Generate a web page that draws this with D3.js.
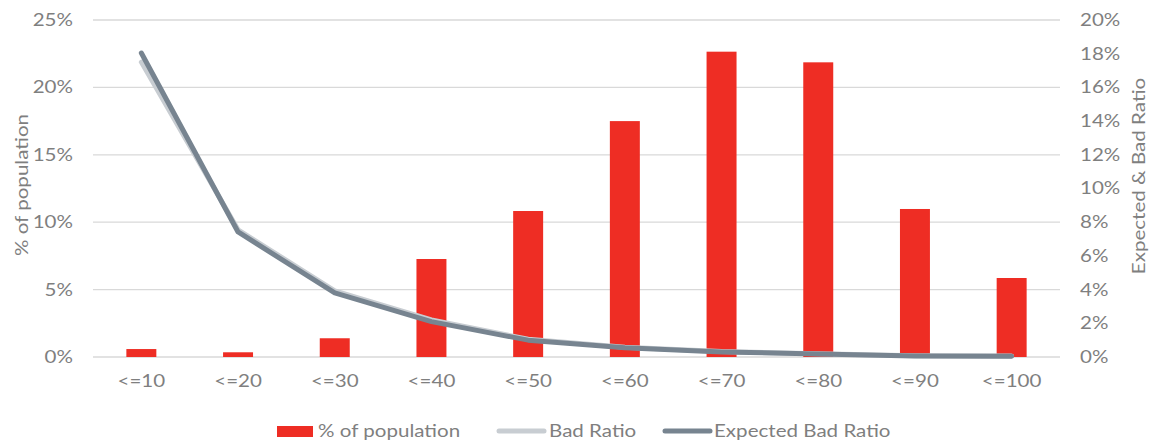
<!DOCTYPE html>
<html><head><meta charset="utf-8">
<script src="https://cdn.jsdelivr.net/npm/d3@7"></script>
<style>body{margin:0;background:#fff}svg{display:block}text{font-family:Lato,"Open Sans",sans-serif;fill:#7f7f7f}</style>
</head><body><svg id="c" width="1153" height="442"></svg>
<script>
const categories = ["<=10","<=20","<=30","<=40","<=50","<=60","<=70","<=80","<=90","<=100"];
const population = [0.59,0.35,1.39,7.27,10.83,17.5,22.65,21.86,10.98,5.86];
const badRatio = [17.5,7.55,3.92,2.2,1.05,0.58,0.32,0.2,0.08,0.06];
const expectedBadRatio = [18.04,7.42,3.8,2.1,1.0,0.55,0.3,0.18,0.06,0.05];
const leftTicks = [0,5,10,15,20,25];
const rightTicks = [0,2,4,6,8,10,12,14,16,18,20];

const FS = "17px", SX = 1.21;
const svg = d3.select("#c");
const L=93, R=1060, T=20, B=357;
const x = d3.scaleBand().domain(categories).range([L,R]).paddingInner(0.69).paddingOuter(0.345);
const xc = d => x(d)+x.bandwidth()/2;
const yL = d3.scaleLinear().domain([0,25]).range([B,T]);
const yR = d3.scaleLinear().domain([0,20]).range([B,T]);

function styleTicks(g){
  g.select(".domain").remove();
  g.selectAll("text").style("font-size",FS).style("fill","#7f7f7f").style("font-family","Lato,sans-serif")
   .attr("transform",`scale(${SX},1)`);
}

// gridlines
svg.append("g").selectAll("line").data(leftTicks).join("line")
  .attr("x1",L).attr("x2",R).attr("y1",d=>yL(d)).attr("y2",d=>yL(d))
  .attr("stroke","#d9d9d9").attr("stroke-width",1.3);

// left axis
svg.append("g").attr("transform",`translate(${L-20},0)`)
  .call(d3.axisLeft(yL).tickValues(leftTicks).tickFormat(d=>d+"%").tickSize(0).tickPadding(0))
  .call(styleTicks);

// right axis
svg.append("g").attr("transform",`translate(${R+20},0)`)
  .call(d3.axisRight(yR).tickValues(rightTicks).tickFormat(d=>d+"%").tickSize(0).tickPadding(0))
  .call(styleTicks);

// x axis
svg.append("g").attr("transform",`translate(0,${B+15})`)
  .call(d3.axisBottom(x).tickSize(0).tickPadding(3))
  .call(styleTicks);

// bars
svg.append("g").selectAll("rect").data(population).join("rect")
  .attr("x",(d,i)=>x(categories[i])).attr("width",x.bandwidth())
  .attr("y",d=>yL(d)).attr("height",d=>B-yL(d)).attr("fill","#ee2d24");

// lines
const line = d3.line().x((d,i)=>xc(categories[i])).y(d=>yR(d));
svg.append("path").attr("d",line(badRatio)).attr("fill","none")
  .attr("stroke","#c8cdd2").attr("stroke-width",5).attr("stroke-linecap","round").attr("stroke-linejoin","round");
svg.append("path").attr("d",line(expectedBadRatio)).attr("fill","none")
  .attr("stroke","#778490").attr("stroke-width",5).attr("stroke-linecap","round").attr("stroke-linejoin","round");

// axis titles
svg.append("text").attr("transform",`translate(22,185) rotate(-90) scale(${SX},1)`).attr("text-anchor","middle")
  .attr("dy","0.35em").style("font-size",FS).text("% of population");
svg.append("text").attr("transform",`translate(1139,176) rotate(-90) scale(${SX},1)`).attr("text-anchor","middle")
  .attr("dy","0.35em").style("font-size",FS).text("Expected & Bad Ratio");

// legend
const ly = 431;
const lg = svg.append("g");
lg.append("rect").attr("x",277).attr("y",ly-5).attr("width",36).attr("height",11).attr("fill","#ee2d24");
lg.append("text").attr("transform",`translate(318,${ly}) scale(${SX},1)`).attr("dy","0.35em").style("font-size",FS).text("% of population");
lg.append("line").attr("x1",499).attr("x2",544).attr("y1",ly).attr("y2",ly).attr("stroke","#c8cdd2").attr("stroke-width",5).attr("stroke-linecap","round");
lg.append("text").attr("transform",`translate(549,${ly}) scale(${SX},1)`).attr("dy","0.35em").style("font-size",FS).text("Bad Ratio");
lg.append("line").attr("x1",665).attr("x2",710).attr("y1",ly).attr("y2",ly).attr("stroke","#778490").attr("stroke-width",5).attr("stroke-linecap","round");
lg.append("text").attr("transform",`translate(714,${ly}) scale(${SX},1)`).attr("dy","0.35em").style("font-size",FS).text("Expected Bad Ratio");
</script></body></html>
